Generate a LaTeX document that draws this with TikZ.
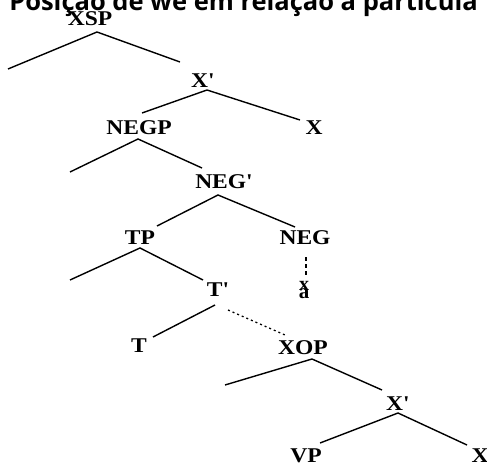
\documentclass[tikz,border=0pt]{standalone}
\usepackage{graphicx}
\usepackage{fontspec}
\setmainfont{Liberation Serif}
\newfontfamily\topfont{Open Sans}
\newcommand\stretchlbl[1]{\scalebox{1.12}[1]{#1}}
\begin{document}
\begin{tikzpicture}[x=1pt,y=-1pt,
  lbl/.style={font=\fontsize{21}{21}\selectfont\bfseries, inner sep=0pt},
  edge/.style={line width=1.4pt},
  dashedge/.style={line width=1.3pt, dash pattern=on 4pt off 3pt},
  dotedge/.style={line width=1.3pt, dash pattern=on 2pt off 3pt}]
\useasboundingbox (0,0) rectangle (487,465);
\clip (0,0) rectangle (487,465);
% cut-off caption
\node[anchor=base east, inner sep=0pt, font=\topfont\bfseries\fontsize{25.5}{25.5}\selectfont] (title) at (478,11) {Posição de we em relação à partícula};
% labels
\node[lbl] (xsp)  at (90,19)   {\stretchlbl{XSP}};
\node[lbl] (xb1)  at (203,81)  {\stretchlbl{X\textquotesingle}};
\node[lbl] (negp) at (139,128) {\stretchlbl{NEGP}};
\node[lbl] (x1)   at (314,128) {\stretchlbl{X}};
\node[lbl] (negb) at (224,182) {\stretchlbl{NEG\textquotesingle}};
\node[lbl] (tp)   at (140,238) {\stretchlbl{TP}};
\node[lbl] (neg)  at (305,238) {\stretchlbl{NEG}};
\node[lbl] (tb)   at (218,290) {\stretchlbl{T\textquotesingle}};
\node[lbl, align=center] (a) at (304,290) {{\fontsize{20}{20}\selectfont x}\\[-13pt]a};
\node[lbl] (t)    at (139,346) {\stretchlbl{T}};
\node[lbl] (xop)  at (303,348) {\stretchlbl{XOP}};
\node[lbl] (xb2)  at (398,404) {\stretchlbl{X\textquotesingle}};
\node[lbl] (vp)   at (306,456) {\stretchlbl{VP}};
\node[lbl] (x2)   at (480,456) {\stretchlbl{X}};
% branch points and free ends
\coordinate (xsp-b) at (97,32);  \coordinate (xsp-l) at (8,69);   \coordinate (xsp-r) at (180,62);
\coordinate (xb1-b) at (207,90); \coordinate (xb1-l) at (142,113); \coordinate (xb1-r) at (300,120);
\coordinate (negp-b) at (138,139); \coordinate (negp-l) at (70,172); \coordinate (negp-r) at (202,168);
\coordinate (negb-b) at (218,195); \coordinate (negb-l) at (157,226); \coordinate (negb-r) at (295,227);
\coordinate (tp-b) at (140,248); \coordinate (tp-l) at (70,280); \coordinate (tp-r) at (203,280);
\coordinate (neg-b) at (306,257); \coordinate (neg-e) at (306,277);
\coordinate (tb-b) at (215,305); \coordinate (tb-l) at (153,337);
\coordinate (tb-d) at (228,310); \coordinate (tb-e) at (285,335);
\coordinate (xop-b) at (312,359); \coordinate (xop-l) at (225,385); \coordinate (xop-r) at (382,390);
\coordinate (xb2-b) at (398,413); \coordinate (xb2-l) at (320,443); \coordinate (xb2-r) at (467,445);
% connectors
\draw[edge] (xsp-l) -- (xsp-b) -- (xsp-r);
\draw[edge] (xb1-l) -- (xb1-b) -- (xb1-r);
\draw[edge] (negp-l) -- (negp-b) -- (negp-r);
\draw[edge] (negb-l) -- (negb-b) -- (negb-r);
\draw[edge] (tp-l) -- (tp-b) -- (tp-r);
\draw[dashedge] (neg-b) -- (neg-e);
\draw[edge] (tb-b) -- (tb-l);
\draw[dotedge] (tb-d) -- (tb-e);
\draw[edge] (xop-l) -- (xop-b) -- (xop-r);
\draw[edge] (xb2-l) -- (xb2-b) -- (xb2-r);
\end{tikzpicture}
\end{document}
